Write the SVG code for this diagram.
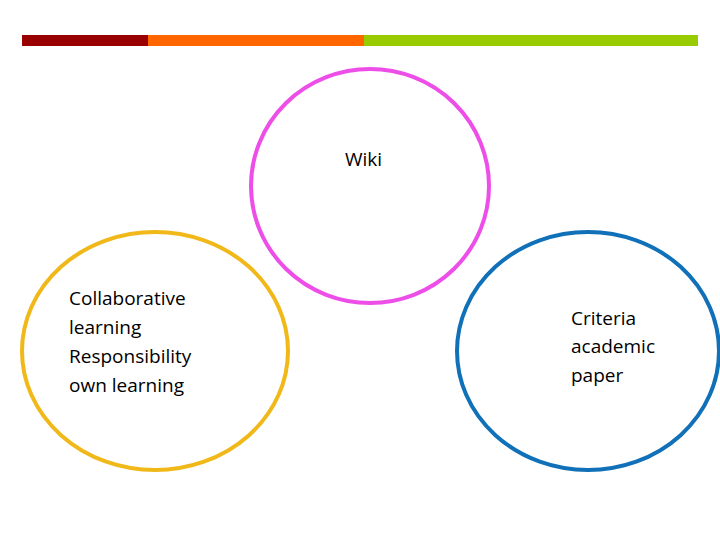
<svg xmlns="http://www.w3.org/2000/svg" width="720" height="540" viewBox="0 0 720 540">
<style>
.t{font-family:"Open Sans","Liberation Sans",sans-serif;font-size:19px;fill:#000}
.c{fill:none;stroke-width:4}
</style>
<rect width="720" height="540" fill="#fff"/>
<g id="bar">
<rect x="22" y="35" width="126" height="11" fill="#990000"/>
<rect x="148" y="35" width="216" height="11" fill="#ff6600"/>
<rect x="364" y="35" width="334" height="11" fill="#99cc00"/>
</g>
<g id="wiki">
<ellipse class="c" cx="370" cy="186" rx="119" ry="117" stroke="#ee4ee8"/>
<text class="t" x="345" y="166">Wiki</text>
</g>
<g id="collab">
<ellipse class="c" cx="155" cy="351" rx="133" ry="119" stroke="#f0b818"/>
<text class="t" x="69" y="305">Collaborative</text>
<text class="t" x="69" y="334">learning</text>
<text class="t" x="69" y="363">Responsibility</text>
<text class="t" x="69" y="392">own learning</text>
</g>
<g id="criteria">
<ellipse class="c" cx="588" cy="351" rx="131" ry="119" stroke="#1070b8"/>
<text class="t" x="571" y="325">Criteria</text>
<text class="t" x="571" y="353">academic</text>
<text class="t" x="571" y="382">paper</text>
</g>
<g id="connectors"/>
</svg>
